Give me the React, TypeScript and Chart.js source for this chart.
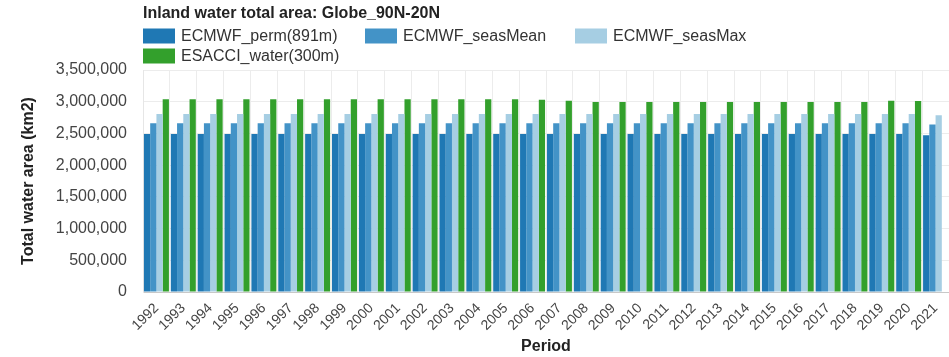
import React, { useEffect, useRef } from "react";
import { Chart, registerables } from "chart.js";

Chart.register(...registerables);

const TITLE = "Inland water total area: Globe_90N-20N";
const Y_TITLE = "Total water area (km2)";
const X_TITLE = "Period";

const years = [
  "1992", "1993", "1994", "1995", "1996", "1997", "1998", "1999", "2000", "2001",
  "2002", "2003", "2004", "2005", "2006", "2007", "2008", "2009", "2010", "2011",
  "2012", "2013", "2014", "2015", "2016", "2017", "2018", "2019", "2020", "2021",
];

const seriesNames = ["ECMWF_perm(891m)", "ECMWF_seasMean", "ECMWF_seasMax", "ESACCI_water(300m)"];

const ecmwfPerm = [
  2490000, 2490000, 2490000, 2490000, 2490000, 2490000, 2490000, 2490000, 2490000, 2490000,
  2490000, 2490000, 2490000, 2490000, 2490000, 2490000, 2490000, 2490000, 2490000, 2490000,
  2490000, 2490000, 2490000, 2490000, 2490000, 2490000, 2490000, 2490000, 2490000, 2470000,
];

const ecmwfSeasMean = [
  2660000, 2660000, 2660000, 2660000, 2660000, 2660000, 2660000, 2660000, 2660000, 2660000,
  2660000, 2660000, 2660000, 2660000, 2660000, 2660000, 2660000, 2660000, 2660000, 2660000,
  2660000, 2660000, 2660000, 2660000, 2660000, 2660000, 2660000, 2660000, 2660000, 2640000,
];

const ecmwfSeasMax = [
  2806000, 2806000, 2806000, 2806000, 2806000, 2806000, 2806000, 2806000, 2806000, 2806000,
  2806000, 2806000, 2806000, 2806000, 2806000, 2806000, 2806000, 2806000, 2806000, 2806000,
  2806000, 2806000, 2806000, 2806000, 2806000, 2806000, 2806000, 2806000, 2806000, 2786000,
];

const esacciWater = [
  3040000, 3040000, 3040000, 3040000, 3040000, 3040000, 3040000, 3040000, 3040000, 3040000,
  3040000, 3040000, 3040000, 3040000, 3030000, 3015000, 2995000, 2995000, 2995000, 2995000,
  2995000, 2995000, 2995000, 2995000, 2995000, 2995000, 2995000, 3015000, 3010000, null,
];

const seriesColors = ["#1f78b4", "#4393c7", "#a6cee3", "#33a02c"];

const Y_MIN = 0;
const Y_MAX = 3500000;
const Y_STEP = 500000;

const FONT = '"Liberation Sans", Arial, Helvetica, sans-serif';

const headerPlugin = {
  id: "headerLegend",
  afterDraw(chart: any) {
    const ctx = chart.ctx;
    const left = chart.chartArea.left;
    ctx.save();
    ctx.textAlign = "left";
    ctx.textBaseline = "middle";
    ctx.font = `bold 16px ${FONT}`;
    ctx.fillStyle = "#222";
    ctx.fillText(TITLE, left, 14);
    const cols = [0, 222, 432];
    chart.data.datasets.forEach((ds: any, i: number) => {
      const x = left + cols[i % 3];
      const yc = 36 + Math.floor(i / 3) * 20;
      ctx.fillStyle = ds.backgroundColor;
      ctx.fillRect(x, yc - 7.5, 32, 15);
      ctx.font = `16px ${FONT}`;
      ctx.fillStyle = "#333";
      ctx.fillText(ds.label, x + 38, yc + 0.5);
    });
    ctx.restore();
  },
};

export default function App() {
  const canvasRef = useRef<HTMLCanvasElement | null>(null);

  useEffect(() => {
    document.body.style.margin = "0";
    const canvas = canvasRef.current;
    if (!canvas) return;
    const seriesValues = [ecmwfPerm, ecmwfSeasMean, ecmwfSeasMax, esacciWater];
    const chart = new Chart(canvas, {
      type: "bar",
      data: {
        labels: years,
        datasets: seriesNames.map((name, i) => ({
          label: name,
          data: seriesValues[i],
          backgroundColor: seriesColors[i],
          borderWidth: 0,
          barPercentage: 1,
          categoryPercentage: 0.93,
        })),
      },
      options: {
        responsive: false,
        animation: false,
        layout: { padding: { top: 70, left: 0, right: 0, bottom: 0 } },
        plugins: {
          legend: { display: false },
          title: { display: false },
          tooltip: { enabled: true },
        },
        scales: {
          x: {
            afterFit: (scale: any) => {
              scale.height = 65;
              scale.paddingRight = 0;
              scale.paddingLeft = 0;
            },
            grid: { color: "#ececec", drawTicks: false, offset: true },
            border: { color: "#c8c8c8" },
            ticks: {
              color: "#444",
              font: { family: FONT, size: 14 },
              maxRotation: 45,
              minRotation: 45,
              padding: 8,
              autoSkip: false,
            },
            title: {
              display: true,
              text: X_TITLE,
              color: "#222",
              font: { family: FONT, size: 16, weight: "bold" },
              padding: { top: 0, bottom: 1 },
            },
          },
          y: {
            min: Y_MIN,
            max: Y_MAX,
            afterFit: (scale: any) => {
              scale.width = 143;
            },
            grid: { color: "#ececec", drawTicks: false },
            border: { color: "#e6e6e6" },
            ticks: {
              stepSize: Y_STEP,
              color: "#444",
              font: { family: FONT, size: 16 },
              padding: 16,
            },
            title: {
              display: true,
              text: Y_TITLE,
              color: "#222",
              font: { family: FONT, size: 16, weight: "bold" },
              padding: { top: 19, bottom: 0 },
            },
          },
        },
      },
      plugins: [headerPlugin],
    });
    return () => chart.destroy();
  }, []);

  return (
    <div style={{ width: 949, height: 357 }}>
      <canvas ref={canvasRef} width={949} height={357} />
    </div>
  );
}
